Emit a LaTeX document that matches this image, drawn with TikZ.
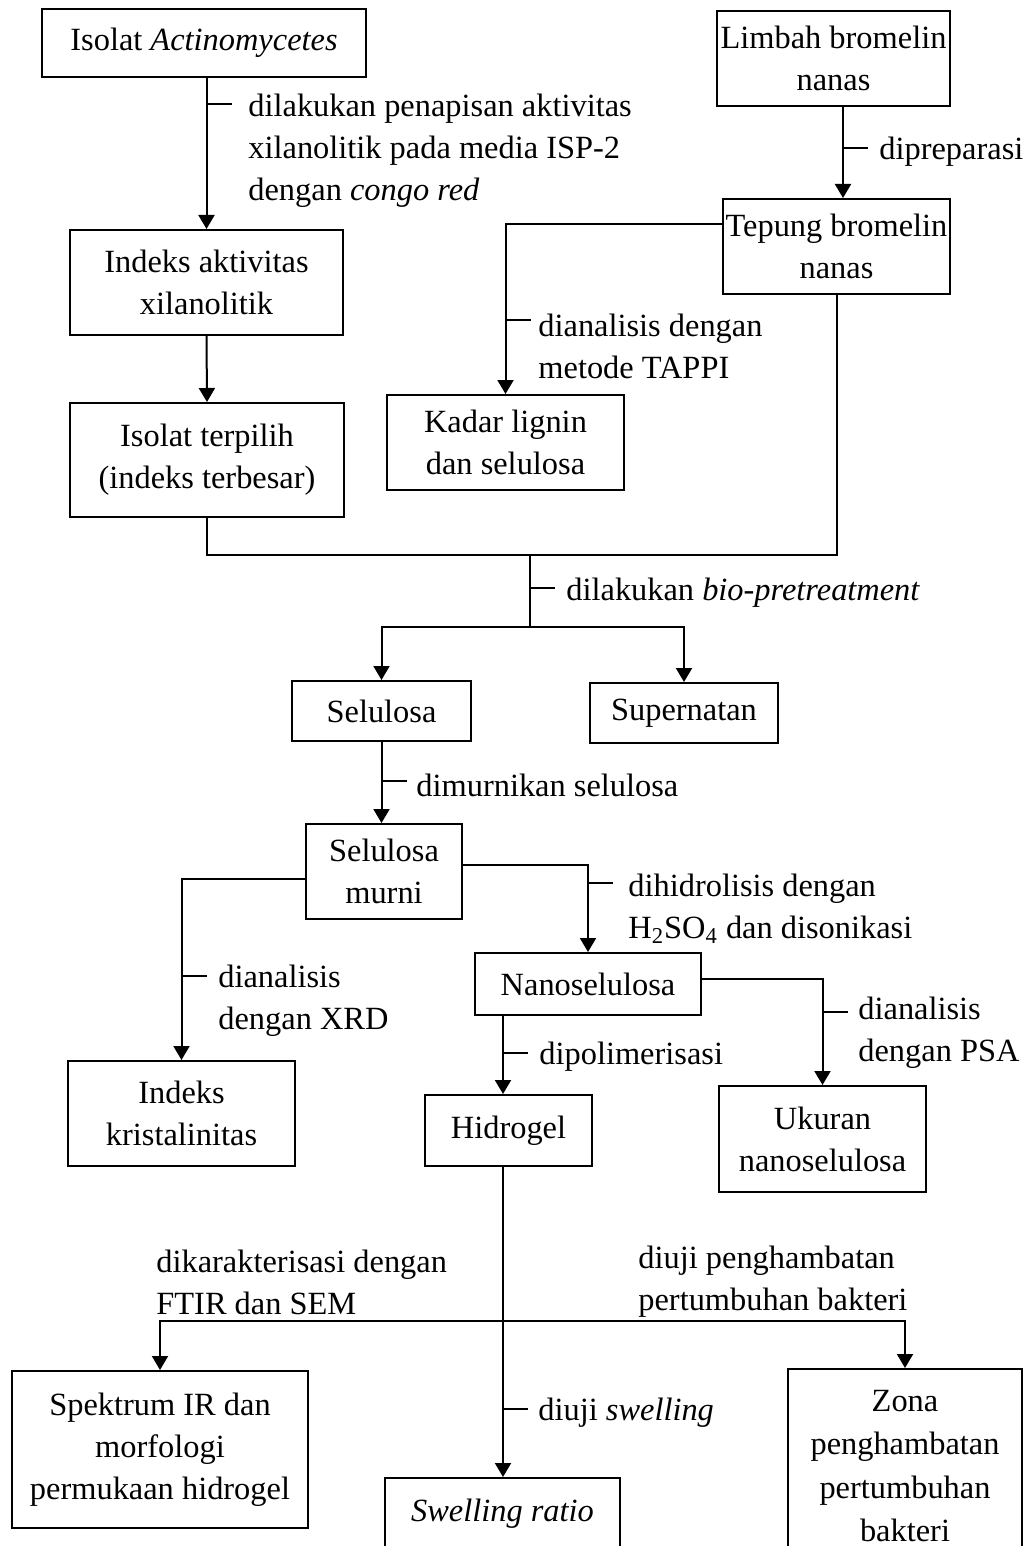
\documentclass[tikz,border=0pt]{standalone}
\usepackage{fontspec}
\setmainfont{Liberation Serif}
\usetikzlibrary{arrows.meta}
\begin{document}
\begin{tikzpicture}[x=0.5pt,y=-0.5pt,
  box/.style={draw,line width=1pt,inner sep=0pt,align=center,font=\fontsize{16.2}{21}\selectfont},
  lbl/.style={anchor=west,inner sep=0pt,align=left,font=\fontsize{16.2}{21}\selectfont},
  conn/.style={line width=1pt},
  arr/.style={conn,-{Triangle[length=7pt,width=8pt]}},
  tickln/.style={line width=1pt}]
\useasboundingbox (0,0) rectangle (1026,1546);
\clip (0,0) rectangle (1026,1546);
\fill[white] (0,0) rectangle (1026,1546);

% boxes
\node[box,minimum width=162pt,minimum height=34pt] (A) at (204,43) {Isolat \textit{Actinomycetes}};
\node[box,minimum width=116.5pt,minimum height=47.5pt] (B) at (833.5,58.5) {Limbah bromelin\\nanas};
\node[box,minimum width=113.5pt,minimum height=47.5pt] (C) at (836.5,246.5) {Tepung bromelin\\nanas};
\node[box,minimum width=136.5pt,minimum height=52.5pt] (D) at (206.5,282.5) {Indeks aktivitas\\xilanolitik};
\node[box,minimum width=137pt,minimum height=57pt] (E) at (207,460) {Isolat terpilih\\(indeks terbesar)};
\node[box,minimum width=118.5pt,minimum height=47.5pt] (F) at (505.5,442.5) {Kadar lignin\\dan selulosa};
\node[box,minimum width=89.5pt,minimum height=30pt] (G) at (381.5,711) {Selulosa};
\node[box,minimum width=94pt,minimum height=30pt] (H) at (684,713) {Supernatan};
\node[box,minimum width=78pt,minimum height=47.5pt] (I) at (384,871.5) {Selulosa\\murni};
\node[box,minimum width=113pt,minimum height=31pt] (J) at (588,984) {Nanoselulosa};
\node[box,minimum width=113.5pt,minimum height=52.5pt] (K) at (181.5,1113.5) {Indeks\\kristalinitas};
\node[box,minimum width=83.5pt,minimum height=35.5pt] (L) at (508.5,1130.5) {Hidrogel};
\node[box,minimum width=103.5pt,minimum height=53pt] (M) at (822.5,1139) {Ukuran\\nanoselulosa};
\node[box,minimum width=148pt,minimum height=78.5pt] (N) at (160,1449.5) {Spektrum IR dan\\morfologi\\permukaan hidrogel};
\node[box,minimum width=117.5pt,minimum height=36pt] (O) at (502.5,1514) {\textit{Swelling ratio}};
\node[box,minimum width=117pt,minimum height=97pt,font=\fontsize{16.2}{21.7}\selectfont] (P) at (905,1466) {Zona\\penghambatan\\pertumbuhan\\bakteri};

% helper coordinates (ticks on connectors)
\coordinate (t1) at (206.5,104);
\coordinate (t2) at (843,148);
\coordinate (t3) at (505.5,320);
\coordinate (t4) at (530,588);
\coordinate (t5) at (381.5,781);
\coordinate (t6) at (588,883);
\coordinate (t7) at (181.5,976);
\coordinate (t8) at (503,1053);
\coordinate (t9) at (822.5,1012);
\coordinate (t10) at (503,1409);
\coordinate (cfy) at (0,224);
\coordinate (m) at (530,555);
\coordinate (split) at (530,627);
\coordinate (ijy) at (0,865);
\coordinate (iky) at (0,879);
\coordinate (jmy) at (0,979);
\coordinate (hb) at (503,1321);

% connectors
\draw[arr] (A.south -| t1) -- (D.north -| t1);
\draw[arr] (B.south -| t2) -- (C.north -| t2);
\draw[arr] (C.west |- cfy) -| (F.north);
\draw[arr] (D.south) -- (E.north);
\draw[conn] (E.south) |- (m);
\draw[conn] (C.south) |- (m);
\draw[conn] (m) -- (split);
\draw[arr] (split) -| (G.north);
\draw[arr] (split) -| (H.north);
\draw[arr] (G.south) -- (G.south |- I.north);
\draw[arr] (I.east |- ijy) -| (J.north);
\draw[arr] (I.west |- iky) -| (K.north);
\draw[arr] (J.south -| t8) -- (L.north -| t8);
\draw[arr] (J.east |- jmy) -| (M.north);
\draw[arr] (L.south -| t10) -- (O.north -| t10);
\draw[arr] (hb) -| (N.north);
\draw[arr] (hb) -| (P.north);

% ticks
\foreach \t in {t1,t2,t3,t4,t5,t6,t7,t8,t9,t10}
  \draw[tickln] (\t) -- ++(25,0);

% labels
\node[lbl] (l1) at (248,151) {dilakukan penapisan aktivitas\\xilanolitik pada media ISP-2\\dengan \textit{congo red}};
\node[lbl] (l2) at (879,152) {dipreparasi};
\node[lbl] (l3) at (538,346) {dianalisis dengan\\metode TAPPI};
\node[lbl] (l4) at (566,593) {dilakukan \textit{bio-pretreatment}};
\node[lbl] (l5) at (416,785) {dimurnikan selulosa};
\node[lbl] (l6) at (628,909) {dihidrolisis dengan\\H\textsubscript{2}SO\textsubscript{4} dan disonikasi};
\node[lbl] (l7) at (218,1001) {dianalisis\\dengan XRD};
\node[lbl] (l8) at (539,1057) {dipolimerisasi};
\node[lbl] (l9) at (858,1033) {dianalisis\\dengan PSA};
\node[lbl] (l10) at (156,1282) {dikarakterisasi dengan\\FTIR dan SEM};
\node[lbl] (l11) at (638,1282) {diuji penghambatan\\pertumbuhan bakteri};
\node[lbl] (l12) at (538,1413) {diuji \textit{swelling}};
\end{tikzpicture}
\end{document}
